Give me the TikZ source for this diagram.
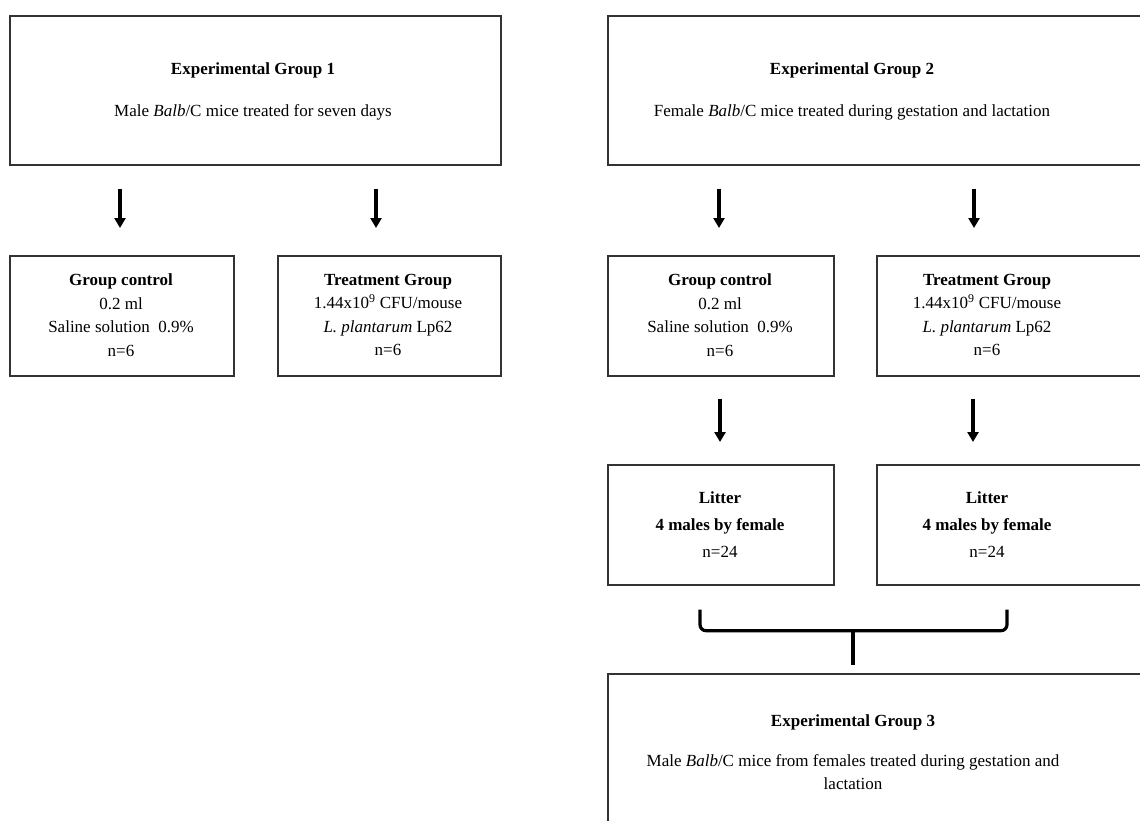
\documentclass[tikz,border=0pt]{standalone}
\usepackage{fontspec}
\setmainfont{Liberation Serif}
\usetikzlibrary{arrows.meta,calc}
\begin{document}
\begin{tikzpicture}[x=1pt,y=-1pt,
  box/.style={draw=black!80, line width=1.7pt, inner sep=0pt, anchor=north west},
  txt/.style={font=\fontsize{17}{23.5}\selectfont, align=center, inner sep=0pt},
  arr/.style={line width=3.2pt, -{Triangle[width=11pt,length=10pt]}},
  brace/.style={line width=3.2pt, rounded corners=6pt}
  ]
\useasboundingbox (0,0) rectangle (1140,820);
\clip (0,0) rectangle (1140,820);
% boxes
\node[box, minimum width=491pt, minimum height=149pt] (eg1) at (9,15) {};
\node[box, minimum width=545pt, minimum height=149pt] (eg2) at (607,15) {};
\node[box, minimum width=224pt, minimum height=120pt] (gc1) at (9,255) {};
\node[box, minimum width=223pt, minimum height=120pt] (tg1) at (277,255) {};
\node[box, minimum width=226pt, minimum height=120pt] (gc2) at (607,255) {};
\node[box, minimum width=280pt, minimum height=120pt] (tg2) at (876,255) {};
\node[box, minimum width=226pt, minimum height=120pt] (lit1) at (607,464) {};
\node[box, minimum width=280pt, minimum height=120pt] (lit2) at (876,464) {};
\node[box, minimum width=545pt, minimum height=200pt] (eg3) at (607,673) {};
% texts
\node[txt] (t1) at (253,91) {\textbf{Experimental Group 1}\\[18.5pt]Male \textit{Balb}/C mice treated for seven days};
\node[txt] (t2) at (852,91) {\textbf{Experimental Group 2}\\[18.5pt]Female \textit{Balb}/C mice treated during gestation and lactation};
\node[txt] (tgc1) at (121,315) {\textbf{Group control}\\0.2 ml\\Saline solution\ \ 0.9\%\\n=6};
\node[txt] (ttg1) at (388,315) {\textbf{Treatment Group}\\1.44x10\textsuperscript{9} CFU/mouse\\\textit{L. plantarum} Lp62\\n=6};
\node[txt] (tgc2) at (720,315) {\textbf{Group control}\\0.2 ml\\Saline solution\ \ 0.9\%\\n=6};
\node[txt] (ttg2) at (987,315) {\textbf{Treatment Group}\\1.44x10\textsuperscript{9} CFU/mouse\\\textit{L. plantarum} Lp62\\n=6};
\node[txt, font=\fontsize{17}{27}\selectfont] (tl1) at (720,525) {\textbf{Litter}\\\textbf{4 males by female}\\n=24};
\node[txt, font=\fontsize{17}{27}\selectfont] (tl2) at (987,525) {\textbf{Litter}\\\textbf{4 males by female}\\n=24};
\node[txt] (t3) at (853,752) {\textbf{Experimental Group 3}\\[16.5pt]Male \textit{Balb}/C mice from females treated during gestation and\\lactation};
% arrows
\draw[arr] ($(eg1.south -| tgc1)+(-1,23)$) -- ($(gc1.north -| tgc1)+(-1,-27)$);
\draw[arr] ($(eg1.south -| ttg1)+(-12,23)$) -- ($(tg1.north -| ttg1)+(-12,-27)$);
\draw[arr] ($(eg2.south -| tgc2)+(-1,23)$) -- ($(gc2.north -| tgc2)+(-1,-27)$);
\draw[arr] ($(eg2.south -| ttg2)+(-13,23)$) -- ($(tg2.north -| ttg2)+(-13,-27)$);
\draw[arr] ($(gc2.south -| tgc2)+(0,22)$) -- ($(lit1.north -| tl1)+(0,-22)$);
\draw[arr] ($(tg2.south -| ttg2)+(-14,22)$) -- ($(lit2.north -| tl2)+(-14,-22)$);
% brace
\draw[brace] ($(lit1.south -| tl1)+(-20,24)$) |- ($(lit2.south -| tl2)+(20,45)$) -- ($(lit2.south -| tl2)+(20,24)$);
\draw[line width=3.2pt] ($(eg3.north -| t3)+(0,-44)$) -- ($(eg3.north -| t3)+(0,-8)$);
\end{tikzpicture}
\end{document}
